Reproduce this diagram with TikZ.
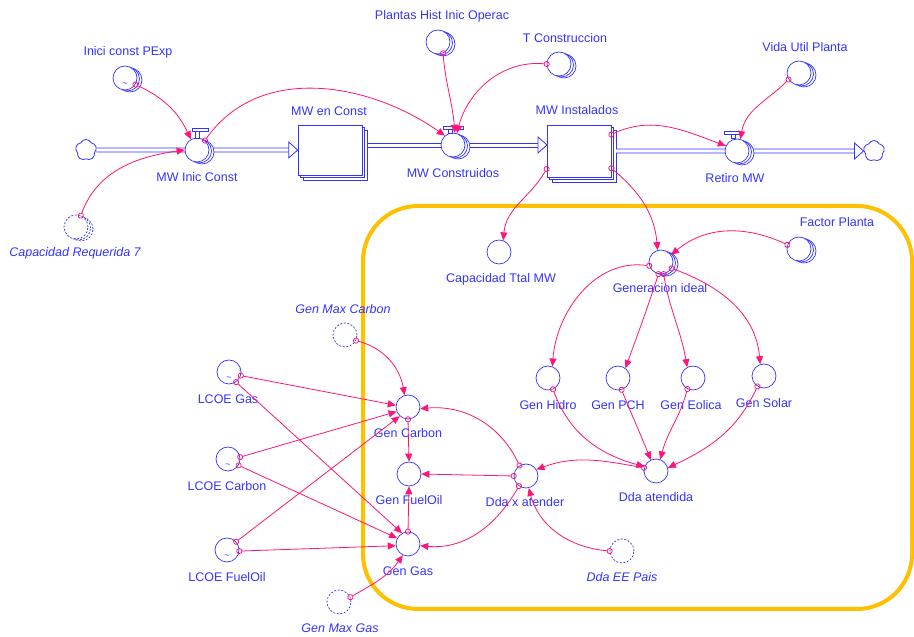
\documentclass[tikz,border=0pt]{standalone}
\usepackage{fontspec}
\setmainfont{Liberation Sans}
\usetikzlibrary{arrows.meta,shapes.symbols,shadows,backgrounds}
\definecolor{vblue}{RGB}{51,51,255}
\definecolor{vpink}{RGB}{255,20,120}
\definecolor{vorange}{RGB}{255,192,0}

\tikzset{
  varc/.style={circle, draw=vblue, fill=white, line width=0.7pt, minimum size=24pt, inner sep=0pt},
  stackc/.style={varc,
    copy shadow={shadow xshift=5pt, shadow yshift=-2pt, draw=vblue, fill=white, line width=0.7pt},
    copy shadow={shadow xshift=2.5pt, shadow yshift=-1pt, draw=vblue, fill=white, line width=0.7pt}},
  ghostc/.style={varc, dash pattern=on 2pt off 1.6pt},
  ghoststack/.style={ghostc,
    copy shadow={shadow xshift=5pt, shadow yshift=-2pt, draw=vblue, fill=white, line width=0.7pt, dash pattern=on 2pt off 1.6pt},
    copy shadow={shadow xshift=2.5pt, shadow yshift=-1pt, draw=vblue, fill=white, line width=0.7pt, dash pattern=on 2pt off 1.6pt}},
  levelbox/.style={rectangle, draw=vblue, fill=white, line width=0.7pt, minimum width=64pt, inner sep=0pt,
    copy shadow={shadow xshift=5pt, shadow yshift=-5pt, draw=vblue, fill=white, line width=0.7pt},
    copy shadow={shadow xshift=2.5pt, shadow yshift=-2.5pt, draw=vblue, fill=white, line width=0.7pt}},
  lbl/.style={text=vblue, font=\fontsize{12.5}{14}\selectfont, inner sep=0pt},
  glbl/.style={text=vblue, font=\fontsize{12.5}{14}\selectfont\itshape, inner sep=0pt},
  tildemark/.style={text=vblue, font=\fontsize{9}{9}\selectfont, inner sep=0pt},
  link/.style={draw=vpink, line width=0.8pt, shorten <=-3pt,
    {Circle[open,length=6pt,width=6pt]}-{Triangle[length=8pt,width=7pt]}},
  pipe/.style={draw=vblue, double=white, double distance=3.2pt, line width=0.8pt},
  pipeline/.style={color=vblue, draw=vblue, line width=0.8pt},
  pipehead/.style={draw=vblue, fill=white, line width=0.8pt, line join=miter},
  cloudsym/.style={cloud, cloud puffs=5, cloud puff arc=130, aspect=1, draw=vblue, fill=white, line width=0.8pt,
    minimum width=21pt, minimum height=21pt, inner sep=0pt},
  handle/.style={draw=vblue, fill=white, line width=0.6pt},
}

\begin{document}
\begin{tikzpicture}[x=1pt,y=1pt]
\useasboundingbox (0,0) rectangle (914,637);

% ---------- sector frame ----------
\begin{scope}[on background layer]
  \draw[vorange, line width=4pt, rounded corners=55pt] (363,28) rectangle (912,431);
\end{scope}

% ---------- stocks and clouds ----------
\node[cloudsym] (cloudL) at (86,487) {};
\node[cloudsym] (cloudR) at (874,486) {};
\node[levelbox, minimum height=50pt] (enconst) at (330,487) {};
\node[levelbox, minimum height=52pt] (inst) at (579,486) {};

% ---------- pipes (valves are placed over them) ----------
\coordinate (instOut) at (616,486);
\draw[pipe] (cloudL.east) -- ([xshift=-9pt]enconst.west);
\draw[pipehead] (enconst.west) -- ++(-9pt,8pt) -- ++(0,-16pt) -- cycle;
\draw[pipe] (instOut) -- ([xshift=-9pt]cloudR.west);
\draw[pipehead] (cloudR.west) -- ++(-9pt,8pt) -- ++(0,-16pt) -- cycle;

% ---------- valves ----------
\node[stackc] (mwinic) at (197,487) {};
\node[stackc] (mwcons) at (453,492) {};
\node[stackc] (retiro) at (737,486) {};
\draw[handle] (195,499) rectangle (199,506);
\draw[handle] (192,506) rectangle (208,509);
\draw[handle] (448,504) rectangle (452,508);
\draw[handle] (443,508) rectangle (463,511);
\draw[handle] (731,499) rectangle (735,503);
\draw[handle] (724,503) rectangle (740,506);

% construction pipe, drawn as its two rails on each side of its valve
\coordinate (p2a) at (367,494);
\coordinate (p2b) at (367,490);
\coordinate (p2c) at (441,494);
\coordinate (p2d) at (441,490);
\coordinate (p2e) at (470,494);
\coordinate (p2f) at (470,490);
\coordinate (p2g) at (538,494);
\coordinate (p2h) at (538,490);
\draw[pipeline] (p2a) -- (p2c);
\draw[pipeline] (p2b) -- (p2d);
\draw[pipeline] (p2e) -- (p2g);
\draw[pipeline] (p2f) -- (p2h);
\coordinate (instIn) at (547,492);
\draw[pipehead] (instIn) -- ++(-9pt,8pt) -- ++(0,-16pt) -- cycle;

% ---------- auxiliaries and constants ----------
\node[stackc] (inici) at (125,559) {};
\node[ghoststack] (capreq) at (76,410) {};
\node[stackc] (plantas) at (438,595) {};
\node[stackc] (tcons) at (559,573) {};
\node[stackc] (vida) at (799,564) {};
\node[varc] (capttal) at (499,385) {};
\node[stackc] (genideal) at (661,375) {};
\node[stackc] (factor) at (799,388) {};
\node[varc] (hidro) at (548,259) {};
\node[varc] (pch) at (618,259) {};
\node[varc] (eolica) at (693,259) {};
\node[varc] (solar) at (764,261) {};
\node[varc] (ddaat) at (656,166) {};
\node[varc] (ddax) at (526,161) {};
\node[ghostc] (ddaee) at (622,86) {};
\node[varc] (carbon) at (408,230) {};
\node[varc] (fuel) at (409,163) {};
\node[varc] (gas) at (408,93) {};
\node[ghostc] (maxcarb) at (345,302) {};
\node[ghostc] (maxgas) at (339,35) {};
\node[varc] (lcoegas) at (229,265) {};
\node[varc] (lcoecarb) at (228,178) {};
\node[varc] (lcoefuel) at (227,87) {};

% lookup marks
\node[tildemark] (t-inici) at ([yshift=-7pt]inici.center) {\textasciitilde};
\node[tildemark] (t-lgas) at ([yshift=-7pt]lcoegas.center) {\textasciitilde};
\node[tildemark] (t-lcarb) at ([yshift=-7pt]lcoecarb.center) {\textasciitilde};
\node[tildemark] (t-lfuel) at ([yshift=-7pt]lcoefuel.center) {\textasciitilde};

% ---------- labels ----------
\node[lbl] (l-inici) at (128,585) {Inici const PExp};
\node[glbl] (l-capreq) at (75,384) {Capacidad Requerida 7};
\node[lbl] (l-mwinic) at (197,460) {MW Inic Const};
\node[lbl] (l-enconst) at (329,526) {MW en Const};
\node[lbl] (l-mwcons) at (453,464) {MW Construidos};
\node[lbl] (l-inst) at (577,527) {MW Instalados};
\node[lbl] (l-retiro) at (735,459) {Retiro MW};
\node[lbl] (l-plantas) at (442,621) {Plantas Hist Inic Operac};
\node[lbl] (l-tcons) at (565,599) {T Construccion};
\node[lbl] (l-vida) at (805,590) {Vida Util Planta};
\node[lbl] (l-capttal) at (501,358) {Capacidad Ttal MW};
\node[lbl] (l-genideal) at (660,349) {Generacion ideal};
\node[lbl] (l-factor) at (837,415) {Factor Planta};
\node[lbl] (l-hidro) at (548,232) {Gen Hidro};
\node[lbl] (l-pch) at (618,232) {Gen PCH};
\node[lbl] (l-eolica) at (691,232) {Gen Eolica};
\node[lbl] (l-solar) at (764,234) {Gen Solar};
\node[lbl] (l-ddaat) at (656,140) {Dda atendida};
\node[lbl] (l-ddax) at (525,135) {Dda x atender};
\node[glbl] (l-ddaee) at (622,60) {Dda EE Pais};
\node[lbl] (l-carbon) at (408,204) {Gen Carbon};
\node[lbl] (l-fuel) at (409,137) {Gen FuelOil};
\node[lbl] (l-gas) at (408,66) {Gen Gas};
\node[glbl] (l-maxcarb) at (343,328) {Gen Max Carbon};
\node[glbl] (l-maxgas) at (340,9) {Gen Max Gas};
\node[lbl] (l-lgas) at (228,238) {LCOE Gas};
\node[lbl] (l-lcarb) at (227,151) {LCOE Carbon};
\node[lbl] (l-lfuel) at (227,60) {LCOE FuelOil};

% ---------- information links ----------
\draw[link] (inici.-32) to[out=-25, in=115] (mwinic.120);
\draw[link] (capreq.67) to[out=70, in=188] (mwinic.180);
\draw[link] (mwinic.50) to[out=55, in=145] (mwcons.131);
\draw[link] (plantas.-66) to[out=-85, in=95] (mwcons.81);
\draw[link] (tcons.180) to[out=175, in=75] (mwcons.72);
\draw[link] (inst.27) to[out=25, in=160] (retiro.155);
\draw[link] (vida.212) to[out=225, in=80] (retiro.74);
\draw[link] (inst.209) to[out=240, in=85] (capttal.70);
\draw[link] (inst.-28) to[out=-40, in=95] (genideal.106);
\draw[link] (factor.160) to[out=155, in=40] (genideal.35);
\draw[link] (genideal.198) to[out=172, in=86] (hidro.69);
\draw[link] (genideal.-102) to[out=-108, in=70] (pch.53);
\draw[link] (genideal.-78) to[out=-80, in=100] (eolica.118);
\draw[link] (genideal.-31) to[out=-20, in=95] (solar.108);
\draw[link] (hidro.-66) to[out=-70, in=165] (ddaat.159);
\draw[link] (pch.-73) to[out=-68, in=112] (ddaat.115);
\draw[link] (eolica.-117) to[out=-105, in=75] (ddaat.70);
\draw[link] (solar.-122) to[out=-115, in=25] (ddaat.15);
\draw[link] (ddaat.165) to[out=170, in=20] (ddax.32);
\draw[link] (ddaee.180) to[out=175, in=-75] (ddax.-77);
\draw[link] (ddax.122) to[out=115, in=5] (carbon.-8);
\draw[link] (ddax.180) -- (fuel.0);
\draw[link] (ddax.-125) to[out=-120, in=-5] (gas.-8);
\draw[link] (carbon.-90) -- (fuel.90);
\draw[link] (gas.90) -- (fuel.-90);
\draw[link] (maxcarb.-27) to[out=-15, in=100] (carbon.106);
\draw[link] (maxgas.23) to[out=30, in=235] (gas.245);
\draw[link] (lcoegas.-17) -- (carbon.172);
\draw[link] (lcoegas.-55) -- (gas.119);
\draw[link] (lcoecarb.9) -- (carbon.202);
\draw[link] (lcoecarb.-31) -- (gas.152);
\draw[link] (lcoefuel.42) -- (carbon.228);
\draw[link] (lcoefuel.-5) -- (gas.188);
\end{tikzpicture}
\end{document}
